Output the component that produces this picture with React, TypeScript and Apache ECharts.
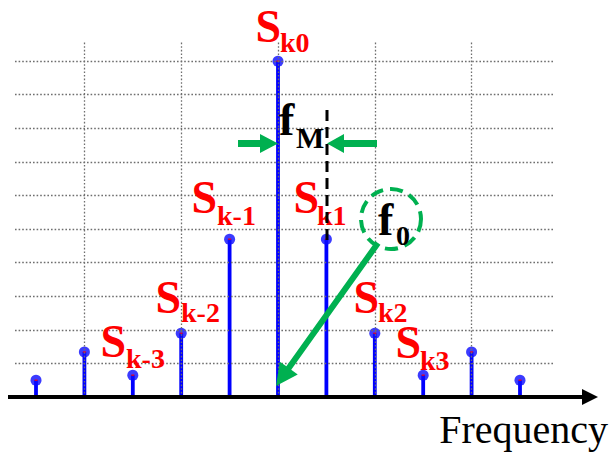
import React, { useEffect, useRef } from "react";
import * as echarts from "echarts";

// Spectral lines around the carrier, indexed k-5 .. k+5
const stemIndex = [-5, -4, -3, -2, -1, 0, 1, 2, 3, 4, 5];
const stemHeights = [0.5, 1.34, 0.65, 1.9, 4.7, 10, 4.7, 1.9, 0.65, 1.34, 0.5];

// Dotted reference grid
const gridRows = [1, 2, 3, 4, 5, 6, 7, 8, 9, 10];
const gridCols = [-4, -2, 0, 2, 4];

const RED = "#ff0000";
const GREEN = "#00b050";
const SERIF = '"Liberation Serif", "Times New Roman", serif';

// Text placed by its alphabetic baseline (SVG text uses a central baseline)
function txt(text: string, x: number, base: number, size: number, color: string, bold = true, align = "left") {
  return {
    type: "text",
    z: 100,
    x,
    y: base - 0.3375 * size,
    style: {
      text,
      fill: color,
      fontSize: size,
      fontWeight: bold ? "bold" : "normal",
      fontFamily: SERIF,
      align,
      textAlign: align,
      verticalAlign: "middle",
      textVerticalAlign: "middle",
    },
  };
}

// Symbol with subscript
function subLabel(main: string, sub: string, x: number, base: number, sx: number, sbase: number, color: string, size = 46, subSize = 28) {
  return [txt(main, x, base, size, color), txt(sub, sx, sbase, subSize, color)];
}

// Block arrow outline from a tail point to a tip point
function arrow(from: number[], to: number[], shaftW: number, headLen: number, headHalf: number) {
  const dx = to[0] - from[0];
  const dy = to[1] - from[1];
  const len = Math.hypot(dx, dy);
  const ux = dx / len;
  const uy = dy / len;
  const nx = -uy;
  const ny = ux;
  const bx = to[0] - ux * headLen;
  const by = to[1] - uy * headLen;
  const h = shaftW / 2;
  return {
    type: "polygon",
    z: 100,
    shape: {
      points: [
        [from[0] + nx * h, from[1] + ny * h],
        [bx + nx * h, by + ny * h],
        [bx + nx * headHalf, by + ny * headHalf],
        [to[0], to[1]],
        [bx - nx * headHalf, by - ny * headHalf],
        [bx - nx * h, by - ny * h],
        [from[0] - nx * h, from[1] - ny * h],
      ],
    },
    style: { fill: GREEN },
  };
}

export default function App() {
  const ref = useRef<HTMLDivElement>(null);

  useEffect(() => {
    if (!ref.current) return;
    const chart = echarts.init(ref.current, null, { renderer: "svg" });

    const stemData = stemIndex.map((x, i) => [x, stemHeights[i]]);

    chart.setOption({
      animation: false,
      backgroundColor: "#ffffff",
      grid: { left: 15, right: 59, top: 42, bottom: 55 },
      xAxis: { type: "value", min: -5.434, max: 5.682, show: false },
      yAxis: { type: "value", min: 0, max: 10.57, show: false },
      series: [
        {
          type: "scatter",
          data: [],
          z: 1,
          silent: true,
          markLine: {
            silent: true,
            symbol: ["none", "none"],
            label: { show: false },
            lineStyle: { color: "#6e6e6e", type: [1.6, 2], width: 1.3 },
            emphasis: { disabled: true },
            data: [
              ...gridRows.map((v) => ({ yAxis: v })),
              ...gridCols.map((v) => ({ xAxis: v })),
            ],
          },
        },
        {
          type: "bar",
          data: stemData,
          barWidth: 3.8,
          z: 2,
          itemStyle: { color: "#0000ff" },
        },
        {
          type: "scatter",
          data: stemData,
          symbol: "circle",
          symbolSize: 11,
          z: 3,
          itemStyle: { color: "#0a0aff" },
        },
        {
          type: "scatter",
          data: stemData,
          symbol: "rect",
          symbolSize: [3, 1.5],
          z: 4,
          itemStyle: { color: RED },
        },
      ],
      graphic: [
        // frequency axis with arrow
        { type: "line", z: 90, shape: { x1: 8, y1: 397, x2: 586, y2: 397 }, style: { stroke: "#000", lineWidth: 4 } },
        { type: "polygon", z: 90, shape: { points: [[582, 389], [598, 397], [582, 405]] }, style: { fill: "#000" } },
        txt("Frequency", 608, 443, 40, "#000", false, "right"),

        // line labels
        ...subLabel("S", "k0", 255.5, 42, 280, 52, RED),
        ...subLabel("S", "k-1", 191.5, 213, 217, 225, RED),
        ...subLabel("S", "k1", 293.5, 213, 317, 225, RED),
        ...subLabel("S", "k-2", 155.5, 313, 181, 322, RED),
        ...subLabel("S", "k2", 353.5, 313, 378, 322, RED),
        ...subLabel("S", "k-3", 100.5, 357, 126, 368, RED),
        ...subLabel("S", "k3", 395.5, 358, 420, 370, RED),

        // modulation frequency marker
        { type: "line", z: 101, shape: { x1: 327, y1: 110, x2: 327, y2: 240 }, style: { stroke: "#000", lineWidth: 3, lineDash: [11, 6] } },
        ...subLabel("f", "M", 279, 135, 296, 148, "#000", 46, 30),
        arrow([238, 143.5], [278, 143.5], 7, 18, 9.5),
        arrow([377, 143.5], [327, 143.5], 7, 17, 9.5),

        // carrier frequency marker
        { type: "circle", z: 100, shape: { cx: 391, cy: 219, r: 30 }, style: { fill: "none", stroke: GREEN, lineWidth: 4, lineDash: [13, 7] } },
        ...subLabel("f", "0", 378, 235, 396, 245, "#000", 46, 28),
        arrow([378, 243], [276, 386], 6, 22, 11),
      ],
    });

    return () => chart.dispose();
  }, []);

  return (
    <div
      ref={ref}
      style={{ position: "absolute", left: 0, top: 0, width: 612, height: 452 }}
    />
  );
}
